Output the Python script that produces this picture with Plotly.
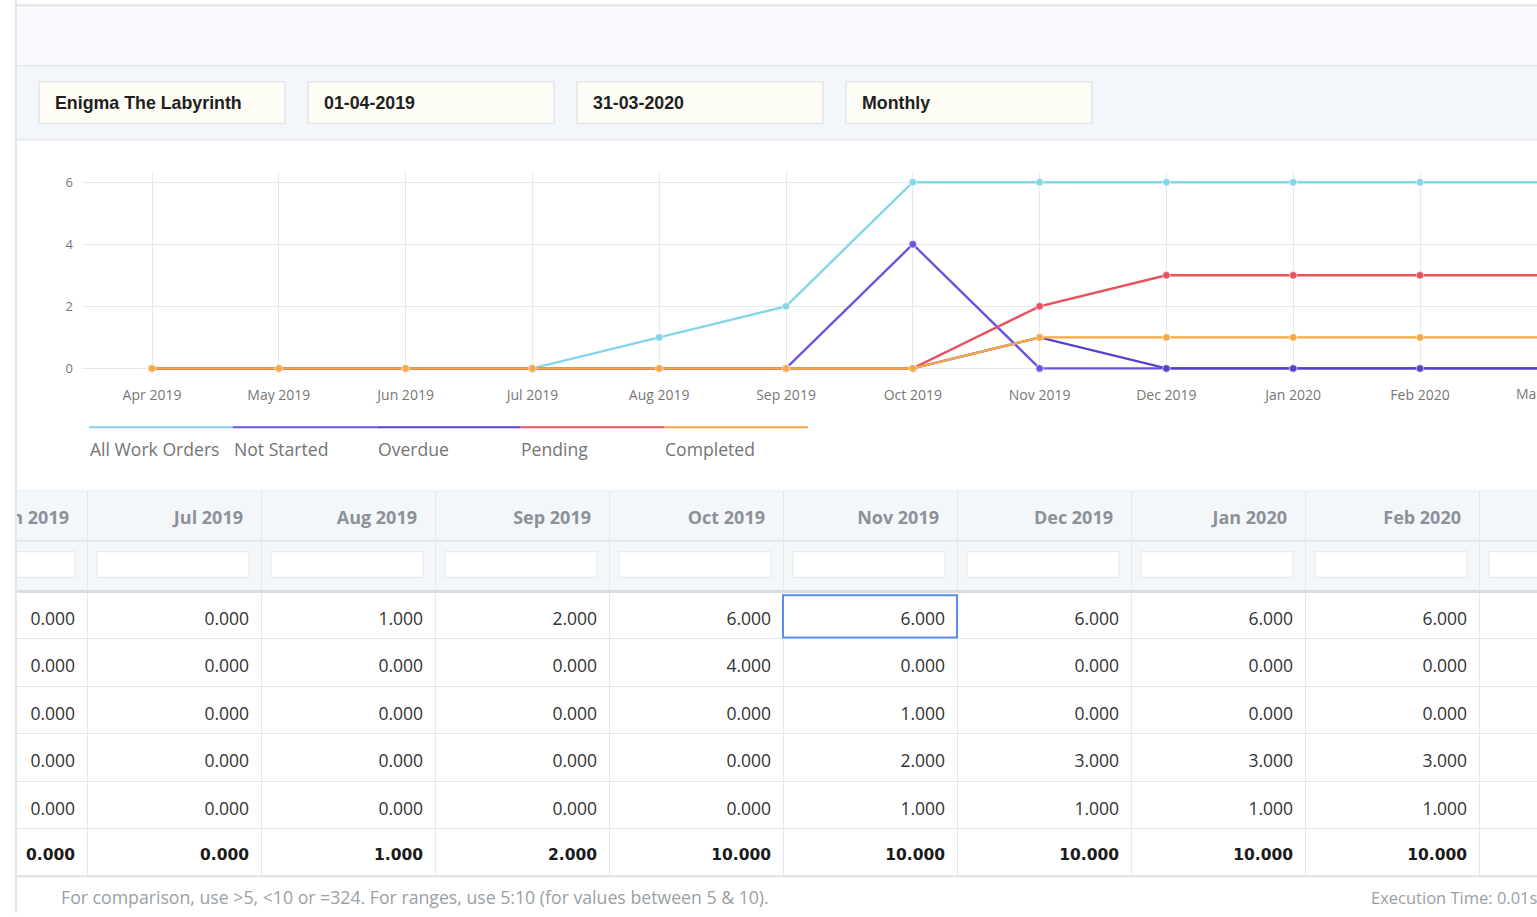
import plotly.graph_objects as go

# ---------------- data ----------------
months = ["Apr 2019", "May 2019", "Jun 2019", "Jul 2019", "Aug 2019", "Sep 2019",
          "Oct 2019", "Nov 2019", "Dec 2019", "Jan 2020", "Feb 2020", "Mar 2020"]
series_names = ["All Work Orders", "Not Started", "Overdue", "Pending", "Completed"]
all_work_orders = [0, 0, 0, 0, 1, 2, 6, 6, 6, 6, 6, 6]
not_started     = [0, 0, 0, 0, 0, 0, 4, 0, 0, 0, 0, 0]
overdue         = [0, 0, 0, 0, 0, 0, 0, 1, 0, 0, 0, 0]
pending         = [0, 0, 0, 0, 0, 0, 0, 2, 3, 3, 3, 3]
completed       = [0, 0, 0, 0, 0, 0, 0, 1, 1, 1, 1, 1]
series_colors = ["#84d5ea", "#6a55e3", "#5a3fc9", "#e8525f", "#f5a945"]
y_ticks = [0, 2, 4, 6]
filter_labels = ["Enigma The Labyrinth", "01-04-2019", "31-03-2020", "Monthly"]
table_first_month = "Jun 2019"      # table is scrolled horizontally to this month
highlight_month = "Nov 2019"        # focused cell (first row)
footer_hint = "For comparison, use >5, <10 or =324. For ranges, use 5:10 (for values between 5 & 10)."
footer_exec = "Execution Time: 0.01s"

series_values = [all_work_orders, not_started, overdue, pending, completed]
totals = [sum(col) for col in zip(*series_values)]

# ---------------- page geometry helpers ----------------
W, H = 1537, 917
def fx(px):
    return px / W
def fy(py):
    return 1 - py / H

FONT = "Open Sans"
shapes = []
annotations = []

def rect(x0, y0, x1, y1, fill, line=None, lw=0, layer="below"):
    shapes.append(dict(type="rect", xref="paper", yref="paper",
                       x0=fx(x0), x1=fx(x1), y0=fy(y1), y1=fy(y0),
                       fillcolor=fill, line=dict(color=line or fill, width=lw),
                       layer=layer))

def hline(x0, x1, y, color, width, layer="below"):
    shapes.append(dict(type="line", xref="paper", yref="paper",
                       x0=fx(x0), x1=fx(x1), y0=fy(y), y1=fy(y),
                       line=dict(color=color, width=width), layer=layer))

# page background bands
rect(16, 8, W, 65, "#f7f9fc")
hline(0, W, 5.5, "#e7eaee", 3)
hline(16, W, 66, "#e6eaee", 2)
rect(16, 67, W, 139, "#f3f6fa")
hline(16, W, 140, "#e6eaee", 2)
# table header band
rect(16, 493, W, 593, "#f4f7fa")
hline(16, W, 493, "#e9ecef", 1)

# filter input boxes
box_w, box_gap, box_x0 = 246, 23, 39
for i, lab in enumerate(filter_labels):
    x0 = box_x0 + i * (box_w + box_gap)
    rect(x0, 82, x0 + box_w, 124, "#fdfdf5", "#e3e5e7", 1.5)
    annotations.append(dict(xref="paper", yref="paper", x=fx(x0 + 14), y=fy(103),
                            text=f"<b>{lab}</b>", showarrow=False, xanchor="left",
                            yanchor="middle",
                            font=dict(family="Liberation Sans", size=17.8, color="#1f1f1f")))

# ---------------- chart ----------------
chart_x0_px, spacing_px, first_tick_px = 82, 126.8, 152
x_range = [(chart_x0_px - first_tick_px) / spacing_px, (W - first_tick_px) / spacing_px]
y_range = [-0.15, 6.32]
chart_top_px, chart_bot_px = 173, 374.7

fig = go.Figure()
for name, vals, color in zip(series_names, series_values, series_colors):
    fig.add_trace(go.Scatter(
        x=months, y=vals, name=name, mode="lines+markers",
        line=dict(color=color, width=2.4),
        marker=dict(size=7.5, color=color, line=dict(color="rgba(255,255,255,0.6)", width=1)),
        xaxis="x", yaxis="y", showlegend=False, hoverinfo="skip"))

# partially visible last tick label (outside axis range)
last_idx = len(months) - 1
annotations.append(dict(xref="paper", yref="paper",
                        x=fx(chart_x0_px) + (last_idx - x_range[0]) / (x_range[1] - x_range[0]) * (1 - fx(chart_x0_px)),
                        y=fy(395), text=months[-1], showarrow=False, xanchor="center", yanchor="middle",
                        font=dict(family=FONT, size=14, color="#777")))

# custom legend (colored bar above each label)
leg_x0, leg_step = 89, 143.8
for i, (name, color) in enumerate(zip(series_names, series_colors)):
    x0 = leg_x0 + i * leg_step
    hline(x0, x0 + leg_step, 429, color, 2)
    annotations.append(dict(xref="paper", yref="paper", x=fx(x0 - 1), y=fy(451),
                            text=name, showarrow=False, xanchor="left", yanchor="middle",
                            font=dict(family=FONT, size=17.6, color="#747474")))

# ---------------- table ----------------
start = months.index(table_first_month)
table_months = months[start:]
ncol = len(table_months)
col_w_px = 174
first_col_right_px = 87
t_range = [0.5 - (first_col_right_px - 16) / col_w_px, 0.5 + (W - first_col_right_px) / col_w_px]
vis = [c for c in range(ncol) if c + 0.5 <= t_range[1]]     # columns whose text is in view
val_pad = 12 / col_w_px
hdr_pad = 18 / col_w_px
val_x = [c + 0.5 - val_pad for c in vis]
hdr_x = [c + 0.5 - hdr_pad for c in vis]
row_shift = 0.11   # optical centring of text within rows

# header labels (row 0 of y3)
fig.add_trace(go.Scatter(x=hdr_x, y=[0.07] * len(vis), text=[table_months[c] for c in vis],
                         mode="text", textposition="middle left",
                         textfont=dict(family=FONT, size=18, color="#8c9199", weight="bold"),
                         xaxis="x2", yaxis="y3", showlegend=False, hoverinfo="skip"))
# data rows
for r, vals in enumerate(series_values):
    row = vals[start:]
    fig.add_trace(go.Scatter(x=val_x, y=[r + row_shift] * len(vis),
                             text=[f"{row[c]:.3f}" for c in vis],
                             mode="text", textposition="middle left",
                             textfont=dict(family=FONT, size=17.5, color="#333"),
                             xaxis="x2", yaxis="y2", showlegend=False, hoverinfo="skip"))
tot = totals[start:]
fig.add_trace(go.Scatter(x=val_x, y=[len(series_values) + row_shift - 0.04] * len(vis),
                         text=[f"<b>{tot[c]:.3f}</b>" for c in vis],
                         mode="text", textposition="middle left",
                         textfont=dict(family="DejaVu Sans", size=15.5, color="#1a1a1a"),
                         xaxis="x2", yaxis="y2", showlegend=False, hoverinfo="skip"))

# filter input boxes in header row 1
for c in range(ncol):
    x0 = max(c - 0.5 + 10 / col_w_px, t_range[0])
    x1 = c + 0.5 - 12 / col_w_px
    shapes.append(dict(type="rect", xref="x2", yref="paper", x0=x0, x1=x1,
                       y0=fy(580), y1=fy(554), fillcolor="#ffffff",
                       line=dict(color="#e8ebee", width=1.2), layer="above"))

hline(16, W, 543, "#e3e7eb", 2, layer="above")
hline(16, W, 594, "#d9dee3", 3, layer="above")
hline(16, W, 880, "#dde1e6", 2, layer="above")

# focused cell
hc = table_months.index(highlight_month)
shapes.append(dict(type="rect", xref="x2", yref="y2", x0=hc - 0.5, x1=hc + 0.5,
                   y0=-0.42, y1=0.47, line=dict(color="#5a8ded", width=2), layer="above"))

# left sidebar edge
rect(0, 0, 15, H, "#ffffff", layer="above")
shapes.append(dict(type="line", xref="paper", yref="paper", x0=fx(16), x1=fx(16), y0=0, y1=1,
                   line=dict(color="#e3e6ea", width=2), layer="above"))

# footer
annotations.append(dict(xref="paper", yref="paper", x=fx(59), y=fy(901), text=footer_hint,
                        showarrow=False, xanchor="left", yanchor="middle",
                        font=dict(family=FONT, size=17.7, color="#9a9fa5")))
annotations.append(dict(xref="paper", yref="paper", x=fx(1369), y=fy(901), text=footer_exec,
                        showarrow=False, xanchor="left", yanchor="middle",
                        font=dict(family=FONT, size=16.5, color="#9a9fa5")))

grid = "#e6e8eb"
fig.update_layout(
    width=W, height=H, margin=dict(l=0, r=0, t=0, b=0),
    paper_bgcolor="#ffffff", plot_bgcolor="rgba(0,0,0,0)",
    font=dict(family=FONT, color="#777"),
    shapes=shapes, annotations=annotations, showlegend=False,
    xaxis=dict(domain=[fx(chart_x0_px), 1], anchor="y", type="category",
               categoryorder="array", categoryarray=months, range=x_range,
               showgrid=True, gridcolor=grid, gridwidth=1, zeroline=False, showline=False,
               ticks="", ticklabelstandoff=12, tickfont=dict(family=FONT, size=14, color="#777"),
               fixedrange=True),
    yaxis=dict(domain=[fy(chart_bot_px), fy(chart_top_px)], anchor="x", range=y_range,
               tickvals=y_ticks, showgrid=True, gridcolor=grid, gridwidth=1,
               zeroline=False, showline=False, ticks="", ticklabelstandoff=8,
               tickfont=dict(family=FONT, size=13, color="#777"), fixedrange=True),
    xaxis2=dict(domain=[fx(16), 1], anchor="y2", range=t_range,
                tickvals=[c + 0.5 for c in range(ncol)], showticklabels=False,
                showgrid=True, gridcolor="#e4e7eb", gridwidth=1, zeroline=False,
                showline=False, ticks="", fixedrange=True),
    yaxis2=dict(domain=[fy(880), fy(594)], anchor="x2", range=[len(series_values) + 0.5, -0.5],
                tickvals=[r + 0.5 for r in range(len(series_values))], showticklabels=False,
                showgrid=True, gridcolor="#e4e7eb", gridwidth=1, zeroline=False,
                showline=False, ticks="", fixedrange=True),
    yaxis3=dict(domain=[fy(593), fy(493)], anchor="x2", range=[1.5, -0.5],
                tickvals=[0.5], showticklabels=False, showgrid=False, zeroline=False,
                showline=False, ticks="", fixedrange=True),
)

fig.write_html("out.html", config={"displayModeBar": False},
               post_script="document.body.style.margin='0';document.body.style.overflow='hidden';")
